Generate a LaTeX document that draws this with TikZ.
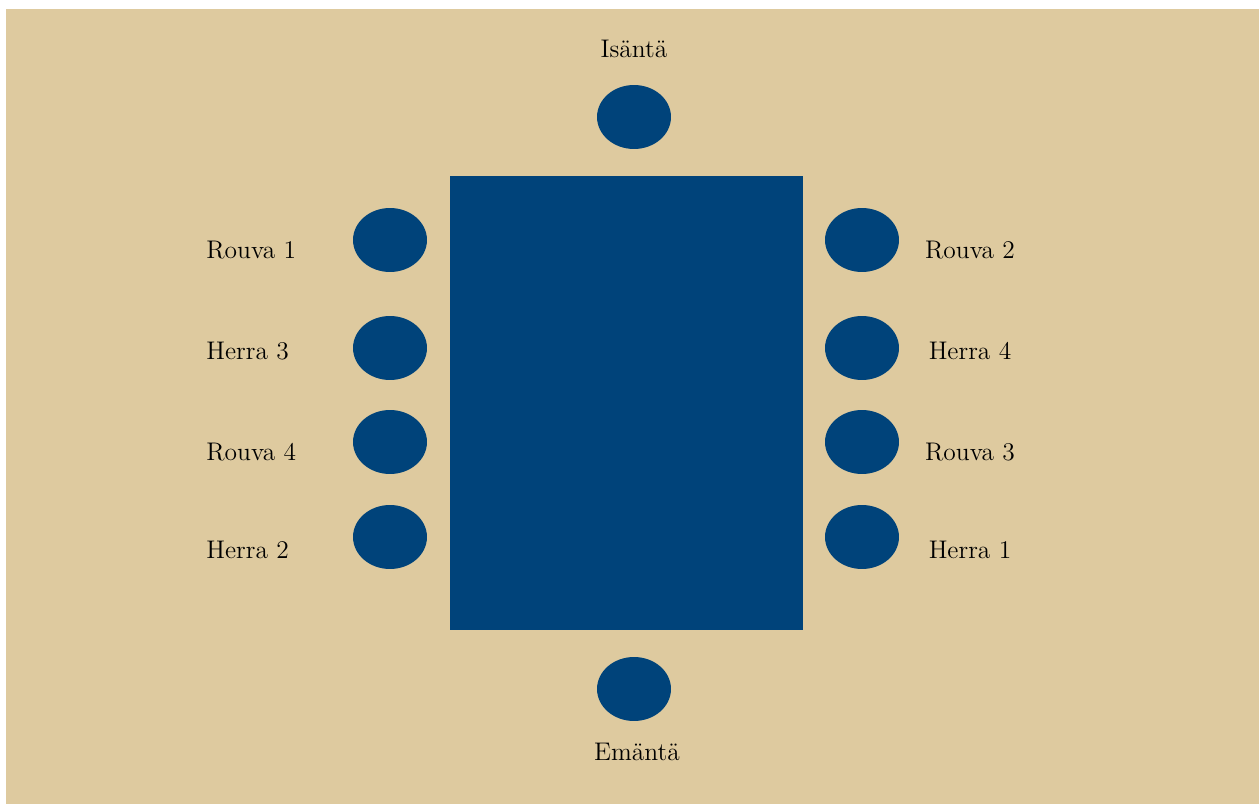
\documentclass[tikz,border=0pt]{standalone}
\usetikzlibrary{shapes.geometric}
\definecolor{tablecloth}{HTML}{DECA9F}
\definecolor{tableblue}{HTML}{00437A}
\tikzset{
  seat/.style={ellipse,fill=tableblue,minimum width=1.48cm,minimum height=1.28cm,inner sep=0pt},
  guest/.style={font=\fontsize{14.5}{17}\selectfont,inner sep=0pt}
}
\begin{document}
\begin{tikzpicture}[x=0.02cm,y=-0.02cm]
  \useasboundingbox (0,0) rectangle (1259,804);
  \fill[white] (0,0) rectangle (1259,804);
  \fill[tablecloth] (6,9) rectangle (1259,804);
  % table
  \fill[tableblue] (450,176) rectangle (803,630);
  % ends
  \node[seat] (host) at (634,117) {};
  \node[seat] (hostess) at (634,689) {};
  \node[guest,anchor=base] (hostlabel) at (634,58) {Isäntä};
  \node[guest,anchor=base] (hostesslabel) at (637,760) {Emäntä};
  % sides
  \foreach \y/\base/\left/\right [count=\i] in {240/259/Rouva 1/Rouva 2, 348/360/Herra 3/Herra 4, 442/460/Rouva 4/Rouva 3, 537/559/Herra 2/Herra 1} {
    \node[seat] (left\i) at (390,\y) {};
    \node[seat] (right\i) at (862,\y) {};
    \node[guest,anchor=base west] (leftlabel\i) at (206,\base) {\left};
    \node[guest,anchor=base] (rightlabel\i) at (970,\base) {\right};
  }
\end{tikzpicture}
\end{document}
